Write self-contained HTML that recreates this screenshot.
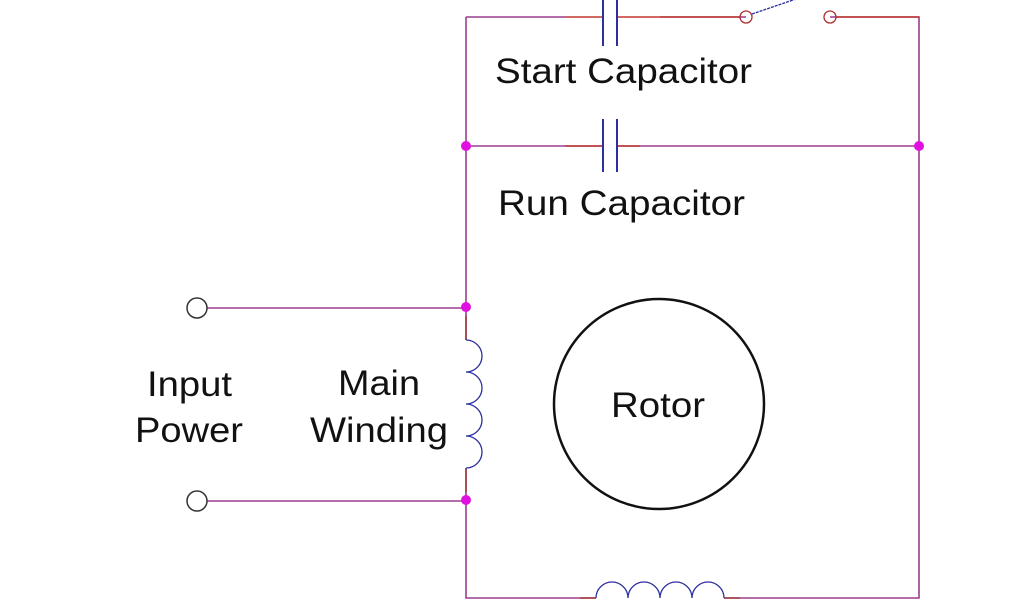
<!DOCTYPE html>
<html><head><style>
html,body{margin:0;padding:0;background:#fff;width:1024px;height:600px;overflow:hidden}
svg{display:block}
text{font-family:"Liberation Sans",sans-serif;fill:#111}
</style></head><body>
<svg width="1024" height="600" viewBox="0 0 1024 600">
<g fill="none" stroke-width="1.6">
<path d="M466 17V340M466 468V598H596M724 598H919V17H830M746 17H660M565 17H466" stroke="#9a3d8e"/>
<path d="M466 146H603M617 146H919" stroke="#9a3d8e"/>
<path d="M207 308H466M207 501H466" stroke="#9a3d8e"/>
<path d="M565 17H603M617 17H740M836 17H919" stroke="#c0392b"/>
<path d="M565 146H603M617 146H640" stroke="#c0392b"/>
<path d="M466 316V340M466 468V492" stroke="#a0403a"/>
<path d="M580 598H596M724 598H740" stroke="#a0403a"/>
<path d="M603 0V46M617 0V46M603 119V172M617 119V172" stroke="#2b2fa0" stroke-width="2"/>
<circle cx="746" cy="17" r="6" stroke="#b03030" stroke-width="1.3"/>
<circle cx="830" cy="17" r="6" stroke="#b03030" stroke-width="1.3"/>
<path d="M752 14L796 -1" stroke="#2b2fa0" stroke-width="1.3" stroke-dasharray="3 1"/>
<path d="M466 340a16 16 0 0 1 0 32a16 16 0 0 1 0 32a16 16 0 0 1 0 32a16 16 0 0 1 0 32" stroke="#2b2fa0" stroke-width="1.3"/>
<path d="M596 598a16 16 0 0 1 32 0a16 16 0 0 1 32 0a16 16 0 0 1 32 0a16 16 0 0 1 32 0" stroke="#2b2fa0" stroke-width="1.3"/>
<circle cx="197" cy="308" r="10" stroke="#333" stroke-width="1.5"/>
<circle cx="197" cy="501" r="10" stroke="#333" stroke-width="1.5"/>
<circle cx="659" cy="404" r="105" stroke="#111" stroke-width="2.5"/>
</g>
<g fill="#e010e0">
<circle cx="466" cy="146" r="5"/><circle cx="919" cy="146" r="5"/>
<circle cx="466" cy="307" r="5"/><circle cx="466" cy="500" r="5"/>
</g>
<text x="495" y="83" font-size="35" textLength="257" lengthAdjust="spacingAndGlyphs">Start Capacitor</text>
<text x="498" y="215" font-size="35" textLength="247" lengthAdjust="spacingAndGlyphs">Run Capacitor</text>
<text x="611" y="417" font-size="35" textLength="94" lengthAdjust="spacingAndGlyphs">Rotor</text>
<text x="147" y="396" font-size="35" textLength="85" lengthAdjust="spacingAndGlyphs">Input</text>
<text x="135" y="442" font-size="35" textLength="108" lengthAdjust="spacingAndGlyphs">Power</text>
<text x="338" y="395" font-size="35" textLength="82" lengthAdjust="spacingAndGlyphs">Main</text>
<text x="310" y="442" font-size="35" textLength="138" lengthAdjust="spacingAndGlyphs">Winding</text>
</svg>
</body></html>
